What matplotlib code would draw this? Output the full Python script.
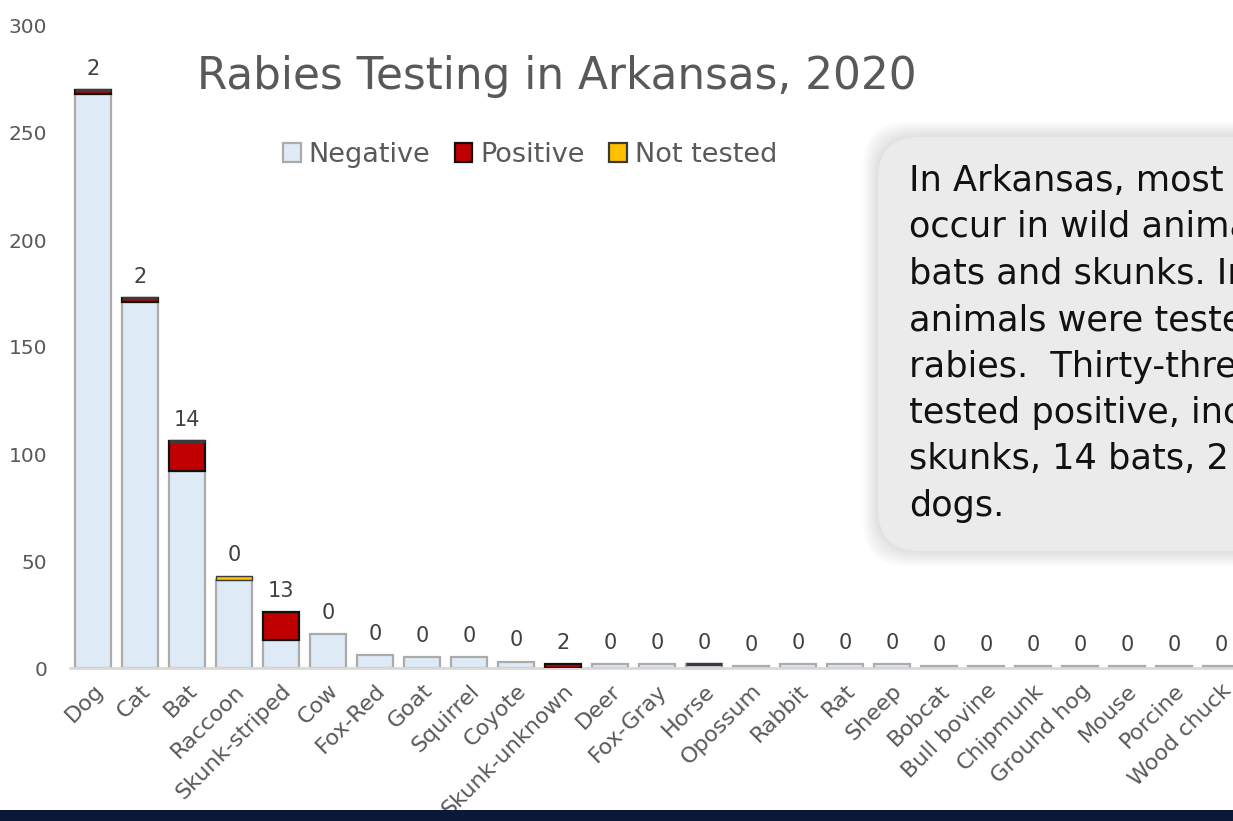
import numpy as np
import matplotlib
matplotlib.use('Agg')
from matplotlib import pyplot as plt
from matplotlib.patches import FancyBboxPatch, Rectangle, Patch

# data
animals = ['Dog', 'Cat', 'Bat', 'Raccoon', 'Skunk-striped', 'Cow', 'Fox-Red', 'Goat',
           'Squirrel', 'Coyote', 'Skunk-unknown', 'Deer', 'Fox-Gray', 'Horse', 'Opossum',
           'Rabbit', 'Rat', 'Sheep', 'Bobcat', 'Bull bovine', 'Chipmunk', 'Ground hog',
           'Mouse', 'Porcine', 'Wood chuck']
negative = [268, 171, 92, 41, 13, 16, 6, 5, 5, 3, 0, 2, 2, 2, 1, 2, 2, 2, 1, 1, 1, 1, 1, 1, 1]
positive = [2, 2, 14, 0, 13, 0, 0, 0, 0, 0, 2, 0, 0, 0, 0, 0, 0, 0, 0, 0, 0, 0, 0, 0, 0]
# nan = empty cell, 0 = entered zero (Excel still draws its border)
not_tested = [0, 0, 0, 2, np.nan, np.nan, np.nan, np.nan, np.nan, np.nan, np.nan, np.nan,
              np.nan, 0, np.nan, np.nan, np.nan, np.nan, np.nan, np.nan, np.nan, np.nan,
              np.nan, np.nan, np.nan]
y_ticks = [0, 50, 100, 150, 200, 250, 300]

# the box runs off the slide on the right, so the lines are cut like in the original
note_lines = ['In Arkansas, most cases',
              'occur in wild animals, like',
              'bats and skunks. In 2020,',
              'animals were tested for',
              'rabies.  Thirty-three animals',
              'tested positive, including 13',
              'skunks, 14 bats, 2 cats and 2',
              'dogs.']

TEXT = '#595959'
plt.rcParams['font.family'] = ['DejaVu Sans']

fig = plt.figure(figsize=(12.33, 8.21), dpi=100)
ax = fig.add_axes([69.5 / 1233, 1 - 668 / 821, 1175 / 1233, 642 / 821])

x = np.arange(len(animals))
neg = np.array(negative, dtype=float)
pos = np.array(positive, dtype=float)
nt = np.array(not_tested, dtype=float)
w = 0.75

ax.bar(x, neg, width=w, color='#DEEAF6', edgecolor='#ABABAB', linewidth=1.6, zorder=2)
has_pos = pos > 0
ax.bar(x[has_pos], pos[has_pos], bottom=neg[has_pos], width=w, color='#C00000',
       edgecolor='#111111', linewidth=1.6, zorder=3)
has_nt = ~np.isnan(nt)
nt_lw = np.where(nt[has_nt] > 0, 1.0, 2.4)
ax.bar(x[has_nt], nt[has_nt], bottom=(neg + pos)[has_nt], width=w, color='#FFC000',
       edgecolor='#3A3A3A', linewidth=nt_lw, zorder=4)

totals = neg + pos + np.nan_to_num(nt)
for xi, t, p in zip(x, totals, positive):
    ax.annotate(str(p), (xi, t), xytext=(0, 8), textcoords='offset points',
                ha='center', va='bottom', fontsize=15, color='#404040')

ax.set_xlim(-0.5, len(animals) - 0.5)
ax.set_ylim(0, 300)
ax.set_yticks(y_ticks)
ax.set_yticklabels([str(v) for v in y_ticks], fontsize=14.5, color=TEXT)
ax.set_xticks(x)
ax.set_xticklabels(animals, rotation=45, ha='right', rotation_mode='anchor',
                   fontsize=16, color=TEXT)
ax.tick_params(axis='both', length=0)
ax.tick_params(axis='y', pad=16)
ax.tick_params(axis='x', pad=9)
for s in ['top', 'right', 'left']:
    ax.spines[s].set_visible(False)
ax.spines['bottom'].set_color('#D9D9D9')
ax.spines['bottom'].set_linewidth(2)
ax.patch.set_alpha(0)

fig.text(197 / 1233, 1 - 76 / 821, 'Rabies Testing in Arkansas, 2020', fontsize=31.5,
         color=TEXT, ha='left', va='center')

handles = [Patch(facecolor='#DEEAF6', edgecolor='#ABABAB', linewidth=1.6),
           Patch(facecolor='#C00000', edgecolor='#111111', linewidth=1.6),
           Patch(facecolor='#FFC000', edgecolor='#3A3A3A', linewidth=1.6)]
fig.legend(handles, ['Negative', 'Positive', 'Not tested'], loc='center left',
           bbox_to_anchor=(283 / 1233, 1 - 155 / 821), ncol=3, frameon=False,
           fontsize=19.5, handlelength=0.65, handleheight=0.65, handletextpad=0.3,
           columnspacing=0.9, labelcolor=TEXT, borderpad=0, borderaxespad=0)

# rounded note box with a soft shadow, in inches so the corners stay round
tr = fig.dpi_scale_trans
bx, by, bw, bh = 8.78, 2.70, 4.2, 4.14
for i in range(10, 0, -1):
    fig.patches.append(FancyBboxPatch((bx, by), bw, bh,
                                      boxstyle='round,pad=%.3f,rounding_size=0.42' % (0.015 * i),
                                      transform=tr, facecolor='#000000', edgecolor='none',
                                      alpha=0.012, zorder=5))
fig.patches.append(FancyBboxPatch((bx, by), bw, bh, boxstyle='round,pad=0,rounding_size=0.42',
                                  transform=tr, facecolor='#EBEBEB', edgecolor='none', zorder=6))
for i, line in enumerate(note_lines):
    fig.text(9.09, (821 - 181 - i * 46.4) / 100, line, transform=tr, fontsize=25.3,
             color='#111111', ha='left', va='center', zorder=7)

fig.patches.append(Rectangle((0, 0), 1, 11 / 821, transform=fig.transFigure,
                             facecolor='#0B1838', edgecolor='none', zorder=10))

plt.savefig('out.png', dpi=100)
